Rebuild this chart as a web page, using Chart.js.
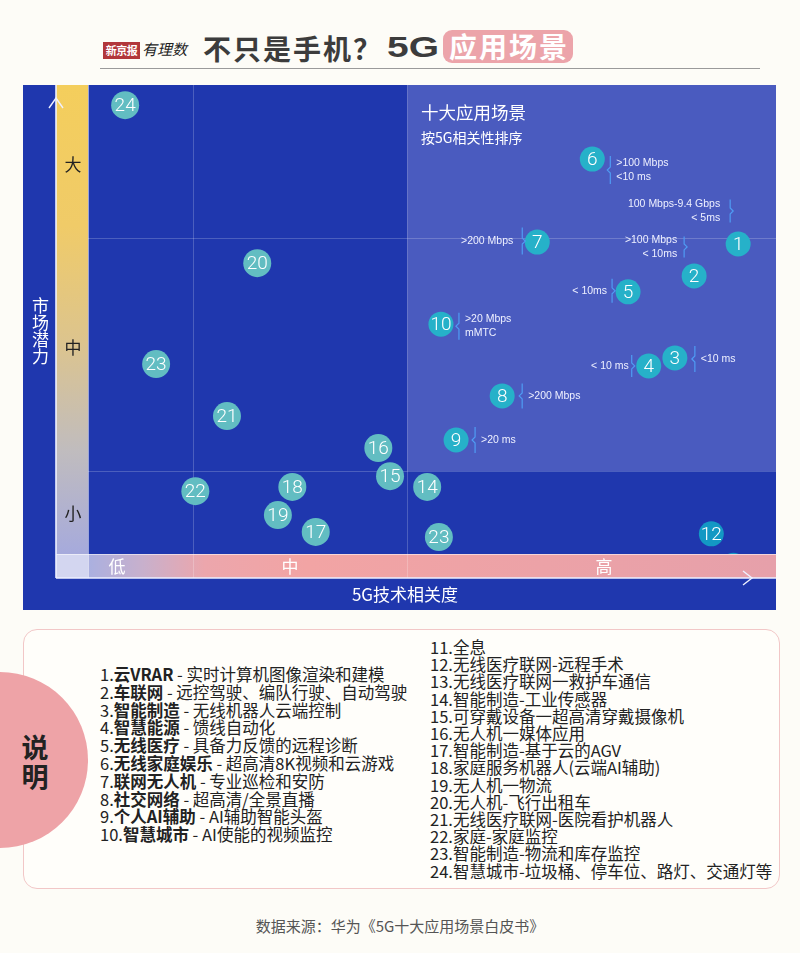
<!DOCTYPE html>
<html lang="zh-CN">
<head>
<meta charset="utf-8">
<title>不只是手机？5G应用场景</title>
<script src="https://cdn.jsdelivr.net/npm/chart.js@4.4.1/dist/chart.umd.min.js"></script>
<style>
  html, body { margin: 0; padding: 0; }
  body {
    width: 800px; height: 953px; position: relative; overflow: hidden;
    background: #fdfcf7;
    font-family: "Noto Sans CJK SC", "Noto Sans", sans-serif;
  }
  .abs { position: absolute; white-space: nowrap; }
  .c { transform: translate(-50%, -50%); }
  .logo-box {
    left: 103px; top: 42px; width: 37px; height: 17px; background: #b2373b; color: #fff;
    font: bold 11px/17px "Noto Sans CJK SC"; text-align: center; letter-spacing: -0.5px;
  }
  .logo-hand { left: 142px; top: 39px; font: italic 15px/20px "Noto Sans CJK SC"; color: #222; }
  .title { left: 203px; top: 28px; font: bold 28px/40px "Noto Sans CJK SC"; letter-spacing: 2px; color: #3c3c3c; }
  .title-5g {
    left: 387px; top: 27px; font: bold 30px/40px "Liberation Sans", Arial, sans-serif; color: #3c3c3c;
    transform: scaleX(1.3); transform-origin: left center;
  }
  .title-box {
    left: 443px; top: 30px; width: 130px; height: 33px; border-radius: 9px; background: #eca4aa;
    color: #fff; font: bold 28px/33px "Noto Sans CJK SC"; letter-spacing: 2px; text-indent: 2px; text-align: center;
  }
  .rule { left: 100px; top: 68px; width: 660px; height: 1px; background: #9a9a9a; }
  #panel { position: absolute; left: 23px; top: 85px; width: 753px; height: 525px; }
  .white { color: #fff; }
  .ytitle { left: 32px; top: 297px; font-size: 17px; line-height: 17px; writing-mode: vertical-rl; color: #fff; }
  .band { font-size: 17px; line-height: 20px; }
  .legend {
    left: 23px; top: 629px; width: 755px; height: 258px; border: 1.5px solid #f2c7c7;
    border-radius: 14px; background: #fffefa;
  }
  .circle { left: -88px; top: 672px; width: 176px; height: 176px; border-radius: 50%; background: #eea3a7; }
  .shuoming { left: 35px; top: 761px; font: bold 27px/29px "Noto Sans CJK SC"; color: #222; text-align: center; }
  .col { font-size: 16.5px; color: #222; }
  .col b { font-weight: bold; }
  .col1 { left: 100px; top: 666px; line-height: 17.8px; }
  .col2 { left: 430px; top: 639px; line-height: 17.2px; }
  .source { left: 400px; top: 925px; font-size: 15px; color: #555; }
</style>
</head>
<body>
<div class="abs logo-box">新京报</div>
<div class="abs logo-hand">有理数</div>
<div class="abs title">不只是手机？</div>
<div class="abs title-5g">5G</div>
<div class="abs title-box">应用场景</div>
<div class="abs rule"></div>

<div id="panel"><canvas id="chart" width="753" height="525"></canvas></div>

<div class="abs ytitle">市场潜力</div>
<div class="abs c band" style="left:73px;top:164px;color:#222">大</div>
<div class="abs c band" style="left:73px;top:347px;color:#222">中</div>
<div class="abs c band" style="left:73px;top:513px;color:#222">小</div>
<div class="abs c band white" style="left:117px;top:566px">低</div>
<div class="abs c band white" style="left:290px;top:566px">中</div>
<div class="abs c band white" style="left:604px;top:566px">高</div>
<div class="abs c white" style="left:405px;top:593px;font-size:17px">5G技术相关度</div>
<div class="abs white" style="left:421px;top:101px;font-size:17.5px;line-height:22px">十大应用场景</div>
<div class="abs white" style="left:421px;top:128px;font-size:14px;line-height:18px">按5G相关性排序</div>

<div class="abs legend"></div>
<div class="abs circle"></div>
<div class="abs c shuoming">说<br>明</div>
<div class="abs col col1">
  1.<b>云VRAR</b> - 实时计算机图像渲染和建模<br>
  2.<b>车联网</b> - 远控驾驶、编队行驶、自动驾驶<br>
  3.<b>智能制造</b> - 无线机器人云端控制<br>
  4.<b>智慧能源</b> - 馈线自动化<br>
  5.<b>无线医疗</b> - 具备力反馈的远程诊断<br>
  6.<b>无线家庭娱乐</b> - 超高清8K视频和云游戏<br>
  7.<b>联网无人机</b> - 专业巡检和安防<br>
  8.<b>社交网络</b> - 超高清/全景直播<br>
  9.<b>个人AI辅助</b> - AI辅助智能头盔<br>
  10.<b>智慧城市</b> - AI使能的视频监控
</div>
<div class="abs col col2">
  11.全息<br>
  12.无线医疗联网-远程手术<br>
  13.无线医疗联网一救护车通信<br>
  14.智能制造-工业传感器<br>
  15.可穿戴设备一超高清穿戴摄像机<br>
  16.无人机一媒体应用<br>
  17.智能制造-基于云的AGV<br>
  18.家庭服务机器人(云端AI辅助)<br>
  19.无人机一物流<br>
  20.无人机-飞行出租车<br>
  21.无线医疗联网-医院看护机器人<br>
  22.家庭-家庭监控<br>
  23.智能制造-物流和库存监控<br>
  24.智慧城市-垃圾桶、停车位、路灯、交通灯等
</div>
<div class="abs c source">数据来源：华为《5G十大应用场景白皮书》</div>

<script>
// 5G relevance (x, 0-100) and market potential (y, 0-100)
const topIds = ['1', '2', '3', '4', '5', '6', '7', '8', '9', '10'];
const topRelevance = [94.5, 88.1, 85.3, 81.5, 78.5, 73.3, 65.3, 60.2, 53.5, 51.3];
const topPotential = [66.1, 59.3, 41.8, 40.1, 55.9, 84.2, 66.5, 33.7, 24.3, 49.0];

const otherIds = ['12', '13', '14', '15', '16', '17', '18', '19', '20', '21', '22', '23', '23', '24'];
const otherRelevance = [90.6, 93.8, 49.3, 43.9, 42.2, 33.1, 29.7, 27.6, 24.6, 20.2, 15.6, 9.9, 51.0, 5.4];
const otherPotential = [4.3, -2.4, 14.3, 16.6, 22.6, 4.7, 14.3, 8.3, 62.0, 29.4, 13.4, 40.5, 3.6, 95.7];

// band boundaries: 低|中|高 and 小|中|大
const xBreaks = [15.3, 46.4];
const yBreaks = [17.7, 67.4];

// network requirement notes next to the top ten
const noteIds = ['6', '1', '7', '2', '5', '10', '4', '3', '8', '9'];
const noteTexts = [
    ['>100 Mbps', '<10 ms'],
    ['100 Mbps-9.4 Gbps', '< 5ms'],
    ['>200 Mbps'],
    ['>100 Mbps', '< 10ms'],
    ['< 10ms'],
    ['>20 Mbps', 'mMTC'],
    ['< 10 ms'],
    ['<10 ms'],
    ['>200 Mbps'],
    ['>20 ms']
];
// brace offset, text offset, vertical offset, brace height (px, relative to the bubble)
const noteLayout = [
    [18, 24, 11, 28], [-8, -18, -33, 23], [-15, -24, -1, 27], [-10, -17, -29, 21],
    [-16, -21, -1, 24], [18, 24, 2, 27], [-17, -20, 0, 22], [20, 26, 1, 26],
    [20, 26, 0, 25], [19, 25, 0, 26]
];

const BAND_Y_W = 32;   // width of the vertical 市场潜力 band
const BAND_X_H = 24;   // height of the horizontal 相关度 band

function toPoints(xs, ys) {
    return xs.map((v, i) => ({ x: v, y: ys[i] }));
}

function strokeLine(ctx, x1, y1, x2, y2) {
    ctx.beginPath();
    ctx.moveTo(x1, y1);
    ctx.lineTo(x2, y2);
    ctx.stroke();
}

function drawBrace(ctx, x, cy, h, dir) {
    const top = cy - h / 2, bot = cy + h / 2;
    ctx.beginPath();
    ctx.moveTo(x, top);
    ctx.lineTo(x, cy - 3);
    ctx.lineTo(x + dir * 3, cy);
    ctx.lineTo(x, cy + 3);
    ctx.lineTo(x, bot);
    ctx.stroke();
}

const panelPlugin = {
    id: 'panel',
    beforeDraw(chart) {
        const { ctx, chartArea: a, scales: { x, y } } = chart;
        const axisY = a.bottom + BAND_X_H;
        ctx.save();
        ctx.fillStyle = '#1f37ae';
        ctx.fillRect(0, 0, chart.width, chart.height);

        // lighter zone: high relevance, medium/large potential
        const xHigh = x.getPixelForValue(xBreaks[1]);
        const yLow = y.getPixelForValue(yBreaks[0]);
        ctx.fillStyle = '#4a5bbf';
        ctx.fillRect(xHigh, a.top, a.right - xHigh, yLow - a.top);

        ctx.strokeStyle = 'rgba(255,255,255,0.2)';
        ctx.lineWidth = 1;
        xBreaks.forEach(v => {
            const px = Math.round(x.getPixelForValue(v)) + 0.5;
            strokeLine(ctx, px, a.top, px, axisY);
        });
        yBreaks.forEach(v => {
            const py = Math.round(y.getPixelForValue(v)) + 0.5;
            strokeLine(ctx, a.left, py, a.right, py);
        });

        // vertical potential band
        const g = ctx.createLinearGradient(0, a.top, 0, a.bottom);
        g.addColorStop(0, '#f4ce5c');
        g.addColorStop(0.3, '#f0cb68');
        g.addColorStop(0.55, '#dcc48e');
        g.addColorStop(0.78, '#c0bcbe');
        g.addColorStop(1, '#a6aadc');
        ctx.fillStyle = g;
        ctx.fillRect(a.left - BAND_Y_W, a.top, BAND_Y_W, a.bottom - a.top);
        ctx.restore();
    },
    afterDatasetsDraw(chart) {
        const { ctx, chartArea: a, scales: { x } } = chart;
        const axisX = a.left - BAND_Y_W;
        const axisY = a.bottom + BAND_X_H;
        ctx.save();

        // bubble numbers
        ctx.fillStyle = '#fff';
        ctx.font = '300 19px Roboto, "Liberation Sans", sans-serif';
        ctx.textAlign = 'center';
        ctx.textBaseline = 'middle';
        [topIds, otherIds].forEach((ids, d) => {
            chart.getDatasetMeta(d).data.forEach((el, i) => {
                ctx.fillText(ids[i], el.x, el.y + 1);
            });
        });

        // notes with braces
        const topMeta = chart.getDatasetMeta(0);
        ctx.font = '10.5px "Liberation Sans", Arial, sans-serif';
        ctx.lineWidth = 1.2;
        ctx.strokeStyle = '#4f9cf4';
        noteIds.forEach((id, n) => {
            const el = topMeta.data[topIds.indexOf(id)];
            const [bx, tx, dy, h] = noteLayout[n];
            const cy = el.y + dy;
            const rightSide = tx > bx;
            drawBrace(ctx, el.x + bx, cy, h, rightSide ? -1 : 1);
            ctx.fillStyle = '#eef0ff';
            ctx.textAlign = rightSide ? 'left' : 'right';
            const lines = noteTexts[n];
            lines.forEach((t, i) => {
                ctx.fillText(t, el.x + tx, cy + (i - (lines.length - 1) / 2) * 14);
            });
        });

        // horizontal relevance band (drawn over the bubble hiding below it)
        const g = ctx.createLinearGradient(a.left, 0, a.right, 0);
        g.addColorStop(0, '#aab0e0');
        g.addColorStop(0.08, '#c8b0cc');
        g.addColorStop(0.17, '#eca6ac');
        g.addColorStop(0.32, '#f2a4a4');
        g.addColorStop(1, '#e6a0aa');
        ctx.fillStyle = g;
        ctx.fillRect(a.left, a.bottom, a.right - a.left, BAND_X_H);
        ctx.fillStyle = '#d3d6f0';
        ctx.fillRect(axisX, a.bottom, BAND_Y_W, BAND_X_H);

        ctx.strokeStyle = 'rgba(255,255,255,0.22)';
        ctx.lineWidth = 1;
        xBreaks.forEach(v => {
            const px = Math.round(x.getPixelForValue(v)) + 0.5;
            strokeLine(ctx, px, a.bottom, px, axisY);
        });
        ctx.strokeStyle = 'rgba(255,255,255,0.55)';
        strokeLine(ctx, axisX, a.bottom + 0.5, a.right, a.bottom + 0.5);
        strokeLine(ctx, a.left + 0.5, a.top, a.left + 0.5, axisY);

        // axes with arrows
        ctx.strokeStyle = '#eef0ff';
        ctx.lineWidth = 1.6;
        strokeLine(ctx, axisX, a.top, axisX, axisY);
        strokeLine(ctx, axisX, axisY, a.right, axisY);
        ctx.lineWidth = 1.4;
        ctx.beginPath();
        ctx.moveTo(axisX - 7, 23);
        ctx.lineTo(axisX, 13);
        ctx.lineTo(axisX + 7, 23);
        ctx.stroke();
        ctx.beginPath();
        ctx.moveTo(a.right - 33, axisY - 7);
        ctx.lineTo(a.right - 24, axisY);
        ctx.lineTo(a.right - 33, axisY + 7);
        ctx.stroke();
        ctx.restore();
    }
};

new Chart(document.getElementById('chart'), {
    type: 'scatter',
    data: {
        datasets: [{
            label: '十大应用场景',
            data: toPoints(topRelevance, topPotential),
            backgroundColor: '#26b1c9',
            borderWidth: 0,
            pointRadius: 12.5,
            pointHoverRadius: 12.5,
            clip: false
        }, {
            label: '其他应用场景',
            data: toPoints(otherRelevance, otherPotential),
            backgroundColor: c => (otherIds[c.dataIndex] === '12' || otherIds[c.dataIndex] === '13') ? '#1398c4' : '#62bdc2',
            borderWidth: 0,
            pointRadius: c => (otherIds[c.dataIndex] === '12' || otherIds[c.dataIndex] === '13') ? 12.5 : 14,
            pointHoverRadius: 14,
            clip: false
        }]
    },
    options: {
        responsive: false,
        animation: false,
        events: [],
        layout: { autoPadding: false, padding: { left: 65, right: 0, top: 0, bottom: 56 } },
        plugins: { legend: { display: false }, tooltip: { enabled: false } },
        scales: {
            x: { type: 'linear', min: 0, max: 100, display: false },
            y: { type: 'linear', min: 0, max: 100, display: false }
        }
    },
    plugins: [panelPlugin]
});
</script>
</body>
</html>
